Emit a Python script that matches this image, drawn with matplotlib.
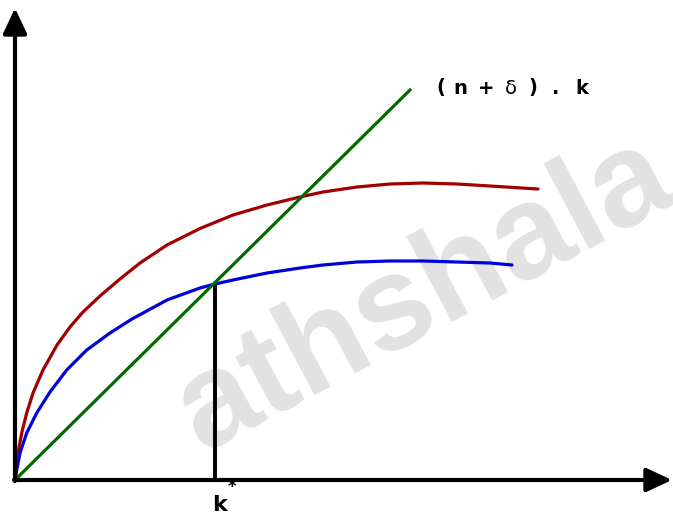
import matplotlib.pyplot as plt

# Solow diagram: two saving curves s.f(k), break-even line (n + delta).k
red_k = [0, 1, 3, 6.7, 11.7, 18, 28, 42, 55, 68, 85, 105, 125, 152,
         185, 218, 252, 285, 308, 342, 375, 408, 442, 475, 523]
red_y = [0, 12, 27, 47, 67, 87, 110, 135, 153, 168, 184, 201, 217, 235,
         251.5, 265, 275, 283, 288, 293, 296, 297, 296, 294, 291]

blue_k = [0, 1.7, 5, 11.7, 21.7, 35, 51.7, 71.7, 95, 117, 152, 185, 200,
          218, 252, 285, 308, 342, 375, 408, 442, 475, 497]
blue_y = [0, 10, 27, 47, 67, 88, 110, 130, 147, 161, 180, 192, 196,
          200, 207, 212, 215, 218, 219, 219, 218, 217, 215]

line_k = [0, 395]
line_y = [0, 390]

k_star = 200
y_star = 196

label_tokens = ["(", "n", "+", "δ", ")", ".", "k"]

fig = plt.figure(figsize=(6.73, 5.16), dpi=100)
ax = fig.add_axes([0, 0, 1, 1])
ax.set_xlim(-15, 658)
ax.set_ylim(-36, 480)
ax.axis("off")

# faint watermark behind everything
ax.text(187, 27, "athshala", rotation=28, rotation_mode="anchor",
        ha="left", va="baseline", fontsize=96, fontweight="bold",
        family="Liberation Sans", color="#e2e2e2", zorder=0)

# axes with arrow heads
arrow = dict(arrowstyle="-|>,head_length=0.6,head_width=0.28", lw=3,
             color="black", mutation_scale=26, shrinkA=0, shrinkB=0)
ax.annotate("", xy=(0, 472), xytext=(0, -1), arrowprops=arrow, zorder=5)
ax.annotate("", xy=(657, 0), xytext=(-1, 0), arrowprops=arrow, zorder=5)

ax.plot(red_k, red_y, color="#a00000", lw=2.3, solid_joinstyle="round",
        solid_capstyle="round", zorder=3)
ax.plot(blue_k, blue_y, color="#0000dd", lw=2.3, solid_joinstyle="round",
        solid_capstyle="round", zorder=3)
ax.plot(line_k, line_y, color="#006a00", lw=2.3, zorder=3)
ax.plot([k_star, k_star], [0, y_star], color="black", lw=2.8, zorder=2)

# widely spaced label for the break-even line
label_x = [426, 445, 471, 496, 518, 541, 567]
for tok, x in zip(label_tokens, label_x):
    weight = "normal" if tok == "δ" else "bold"
    ax.text(x, 392, tok, ha="center", va="center", fontsize=14,
            fontweight=weight, color="black")

ax.text(204, -25, "k", ha="center", va="center",
        fontsize=16, fontweight="bold", color="black")
ax.text(217, -7, "*", ha="center", va="center",
        fontsize=12, fontweight="bold", color="black")

fig.savefig("out.png", dpi=100)
